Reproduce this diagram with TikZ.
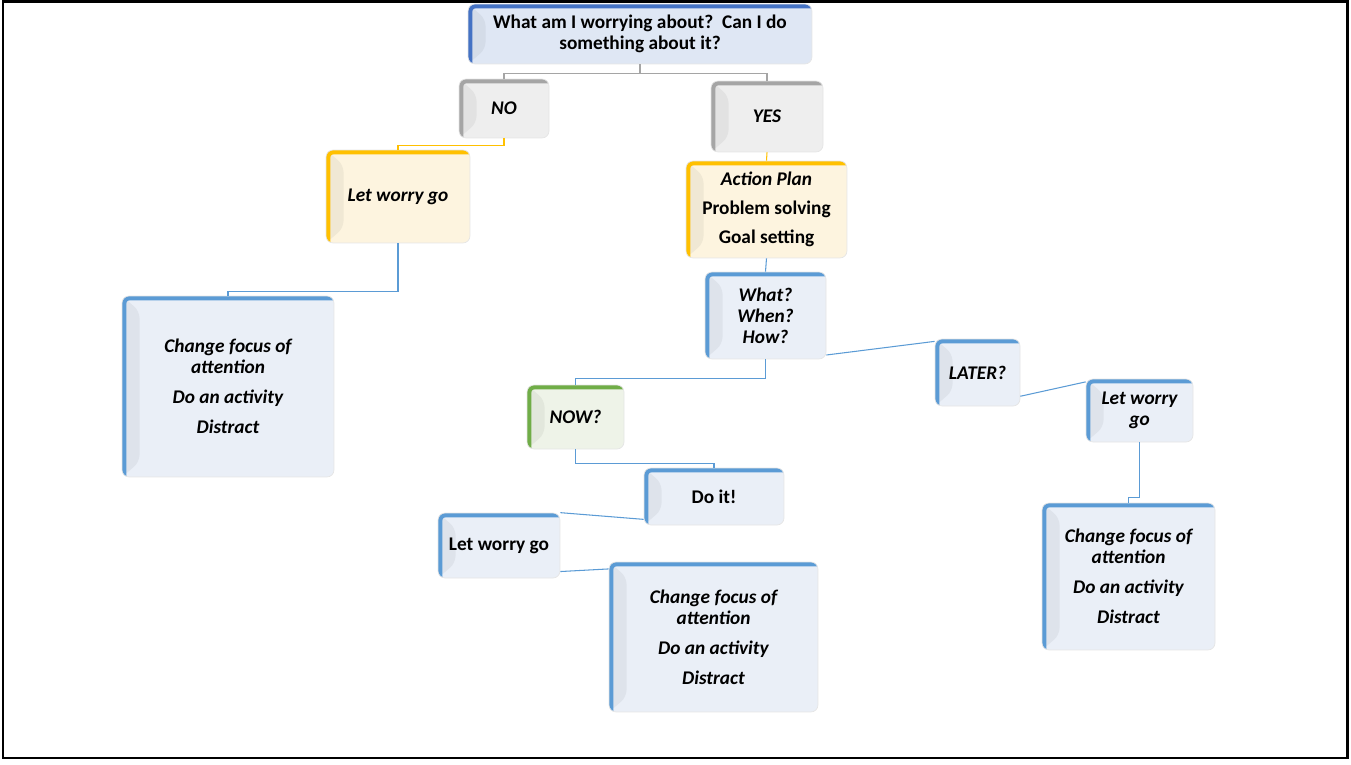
\documentclass[tikz,border=0pt]{standalone}
\usepackage{fontspec}
\setmainfont{Carlito}
\usepackage{xcolor}
\definecolor{edgeblue}{HTML}{5B9BD5}
\definecolor{fillblue}{HTML}{EAEFF7}
\definecolor{edgedark}{HTML}{4472C4}
\definecolor{filldark}{HTML}{DFE7F4}
\definecolor{edgeyellow}{HTML}{FFC000}
\definecolor{fillyellow}{HTML}{FDF4DF}
\definecolor{edgegrey}{HTML}{A5A5A5}
\definecolor{fillgrey}{HTML}{EEEEEE}
\definecolor{edgegreen}{HTML}{70AD47}
\definecolor{fillgreen}{HTML}{EEF3E8}
\tikzset{
	bevel/.style 2 args={
			rounded corners=4pt, fill=#2, draw=black!10, thin, align=center, inner sep=2pt,
			font=\fontsize{11}{12}\selectfont\bfseries,
			path picture={
					\fill[black!5!#2] (path picture bounding box.south west) -- ([xshift=0.35cm,yshift=0.3cm]path picture bounding box.south west) -- ([xshift=0.35cm,yshift=-0.3cm]path picture bounding box.north west) -- (path picture bounding box.north west) -- cycle;
					\draw[#1, line width=5pt] (path picture bounding box.south west) -- (path picture bounding box.north west) -- (path picture bounding box.north east);
				}
		},
	bluebox/.style={bevel={edgeblue}{fillblue}},
	darkbox/.style={bevel={edgedark}{filldark}},
	yellowbox/.style={bevel={edgeyellow}{fillyellow}},
	greybox/.style={bevel={edgegrey}{fillgrey}},
	greenbox/.style={bevel={edgegreen}{fillgreen}},
	ital/.style={font=\fontsize{11}{12}\selectfont\bfseries\itshape},
	blueline/.style={draw=edgeblue, line width=0.6pt},
	yellowline/.style={draw=edgeyellow, line width=0.6pt},
	greyline/.style={draw=edgegrey, line width=0.6pt}
}

\begin{document}
\begin{tikzpicture}[x=0.02cm, y=-0.02cm]
			\useasboundingbox (0,0) rectangle (1351,764);
			\node[darkbox, minimum width=6.88cm, minimum height=1.2cm] (top) at (640,34) {What am I worrying about?\ \ Can I do\\something about it?};
			\node[greybox, ital, minimum width=1.8cm, minimum height=1.18cm] (no) at (504,108.5) {NO};
			\node[greybox, ital, minimum width=2.24cm, minimum height=1.42cm] (yes) at (767,116.5) {YES};
			\node[yellowbox, ital, minimum width=2.88cm, minimum height=1.86cm] (lwgA) at (398,196.5) {Let worry go};
			\node[yellowbox, minimum width=3.22cm, minimum height=1.94cm] (plan) at (766.5,209.5) {\textit{Action Plan}\\[4.5pt]Problem solving\\[4.5pt]Goal setting};
			\node[bluebox, ital, minimum width=2.42cm, minimum height=1.74cm] (what) at (765.5,315.5) {What?\\When?\\How?};
			\node[bluebox, ital, minimum width=4.24cm, minimum height=3.62cm] (cfA) at (228,386.5) {Change focus of\\attention\\[5pt]Do an activity\\[5pt]Distract};
			\node[greenbox, ital, minimum width=1.94cm, minimum height=1.28cm] (now) at (575.5,417) {NOW?};
			\node[bluebox, ital, minimum width=1.7cm, minimum height=1.34cm] (later) at (977.5,372.5) {LATER?};
			\node[bluebox, ital, minimum width=2.14cm, minimum height=1.26cm] (lwgC) at (1139.5,410.5) {Let worry\\go};
			\node[bluebox, minimum width=2.8cm, minimum height=1.14cm] (doit) at (714,496.5) {Do it!};
			\node[bluebox, minimum width=2.44cm, minimum height=1.3cm] (lwgB) at (499,545.5) {Let worry go};
			\node[bluebox, ital, minimum width=4.18cm, minimum height=3.0cm] (cfB) at (713.5,637) {Change focus of\\attention\\[5pt]Do an activity\\[5pt]Distract};
			\node[bluebox, ital, minimum width=3.46cm, minimum height=2.94cm] (cfC) at (1128.5,576.5) {Change focus of\\attention\\[5pt]Do an activity\\[5pt]Distract};
			\draw[greyline] (top.south) -- ++(0,9) -| (no.north);
			\draw[greyline] (top.south) -- ++(0,9) -| (yes.north);
			\draw[yellowline] (no.south) -- ++(0,7) -| (lwgA.north);
			\draw[yellowline] (yes.south) -- (plan.north);
			\draw[blueline] (lwgA.south) -- ++(0,48) -| (cfA.north);
			\draw[blueline] (plan.south) -- (what.north);
			\draw[blueline] (what.south) -- ++(0,19) -| (now.north);
			\draw[blueline] (what.-33) -- (later.144);
			\draw[blueline] (now.south) -- ++(0,14) -| (doit.north);
			\draw[blueline] (lwgB.north east) -- (doit.198);
			\draw[blueline] (lwgB.-23) -- (cfB.147);
			\draw[blueline] (later.-29) -- (lwgC.152);
			\draw[blueline] (lwgC.south) -- ++(0,55) -| (cfC.north);
			\draw[line width=1.6pt] (3,1.5) rectangle (1347.5,758);
		\end{tikzpicture}
\end{document}
